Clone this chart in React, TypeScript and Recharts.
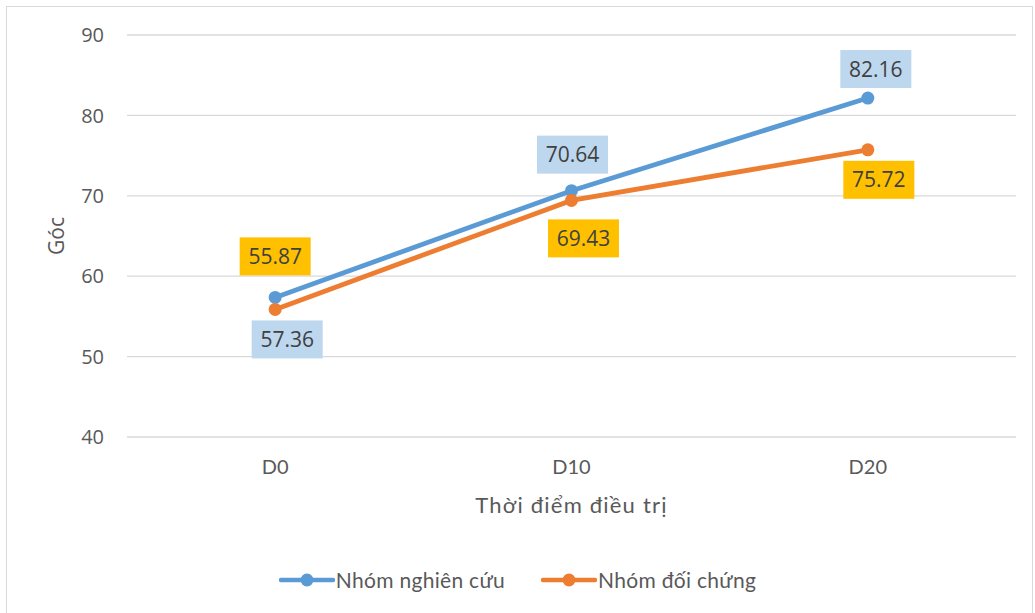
import React from "react"
import { LineChart, Line, XAxis, YAxis, CartesianGrid, LabelList } from "recharts"

const categories = ["D0", "D10", "D20"]
const nghienCuu = [57.36, 70.64, 82.16]
const doiChung = [55.87, 69.43, 75.72]
const yTicks = [40, 50, 60, 70, 80, 90]

const BLUE = "#5B9BD5"
const ORANGE = "#ED7D31"
const TEXT = "#595959"

const data = categories.map((c, i) => ({ name: c, nc: nghienCuu[i], dc: doiChung[i] }))

// where Excel dropped each data label, relative to its point
const blueShift = [
  { dx: 12, dy: 42 },
  { dx: 1, dy: -36 },
  { dx: 8, dy: -29 },
]
const orangeShift = [
  { dx: 0, dy: -53 },
  { dx: 12, dy: 38 },
  { dx: 11, dy: 30 },
]

const makeLabel = (fill: string, shifts: { dx: number; dy: number }[]) => (props: any) => {
  const { x, y, value, index } = props
  const s = shifts[index] || { dx: 0, dy: -30 }
  const cx = x + s.dx
  const cy = y + s.dy
  return (
    <g>
      <rect x={cx - 35.5} y={cy - 19} width={71} height={38} fill={fill} />
      <text
        x={cx}
        y={cy + 7.5}
        textAnchor="middle"
        fontFamily="'Open Sans', sans-serif"
        fontSize={21}
        fill="#404040"
      >
        {Number(value).toFixed(2)}
      </text>
    </g>
  )
}

const LegendItem = ({ color, label }: { color: string; label: string }) => (
  <div style={{ display: "flex", alignItems: "center" }}>
    <svg width={56} height={16}>
      <line x1={2} y1={8} x2={54} y2={8} stroke={color} strokeWidth={4.5} strokeLinecap="round" />
      <circle cx={28} cy={8} r={6.5} fill={color} />
    </svg>
    <span style={{ fontFamily: "Lato, sans-serif", fontSize: 21, color: TEXT, marginLeft: 1, letterSpacing: 0.3 }}>
      {label}
    </span>
  </div>
)

export default function App() {
  return (
    <div
      style={{
        position: "absolute",
        left: 6,
        top: 6,
        width: 1025,
        height: 610,
        border: "1px solid #d9d9d9",
        background: "#fff",
      }}
    >
      <LineChart width={1025} height={530} data={data} margin={{ top: 28, right: 16, left: 0, bottom: 20 }}>
        <CartesianGrid vertical={false} stroke="#d9d9d9" strokeWidth={1.3} />
        <XAxis
          dataKey="name"
          scale="band"
          axisLine={false}
          tickLine={false}
          tickSize={0}
          tickMargin={23}
          height={80}
          tick={{ fill: TEXT, fontSize: 20, fontFamily: "Lato, sans-serif" }}
          label={{
            content: ({ viewBox }: any) => (
              <text
                x={viewBox.x + viewBox.width / 2}
                y={viewBox.y + 76}
                textAnchor="middle"
                fontFamily="Lato, sans-serif"
                fontSize={22}
                letterSpacing={1.2}
                fill={TEXT}
              >
                Thời điểm điều trị
              </text>
            ),
          }}
        />
        <YAxis
          domain={[40, 90]}
          ticks={yTicks}
          width={120}
          axisLine={false}
          tickLine={false}
          tickSize={0}
          tickMargin={23}
          tick={{ fill: TEXT, fontSize: 20, fontFamily: "'Open Sans', sans-serif" }}
          label={{
            content: ({ viewBox }: any) => {
              const x = viewBox.x + 57
              const y = viewBox.y + viewBox.height / 2
              return (
                <text
                  x={x}
                  y={y}
                  transform={`rotate(-90, ${x}, ${y})`}
                  textAnchor="middle"
                  fontFamily="'Open Sans', sans-serif"
                  fontSize={21}
                  fill={TEXT}
                >
                  Góc
                </text>
              )
            },
          }}
        />
        <Line
          dataKey="nc"
          name="Nhóm nghiên cứu"
          stroke={BLUE}
          strokeWidth={4.8}
          dot={{ r: 6.5, fill: BLUE, stroke: BLUE, strokeWidth: 0 }}
          isAnimationActive={false}
        >
          <LabelList dataKey="nc" content={makeLabel("#BDD7EE", blueShift)} />
        </Line>
        <Line
          dataKey="dc"
          name="Nhóm đối chứng"
          stroke={ORANGE}
          strokeWidth={4.8}
          dot={{ r: 6.5, fill: ORANGE, stroke: ORANGE, strokeWidth: 0 }}
          isAnimationActive={false}
        >
          <LabelList dataKey="dc" content={makeLabel("#FFC000", orangeShift)} />
        </Line>
      </LineChart>
      <div
        style={{
          position: "absolute",
          top: 560,
          left: 0,
          width: 1025,
          display: "flex",
          justifyContent: "center",
          gap: 36,
          paddingRight: 4,
          boxSizing: "border-box",
        }}
      >
        <LegendItem color={BLUE} label="Nhóm nghiên cứu" />
        <LegendItem color={ORANGE} label="Nhóm đối chứng" />
      </div>
    </div>
  )
}
